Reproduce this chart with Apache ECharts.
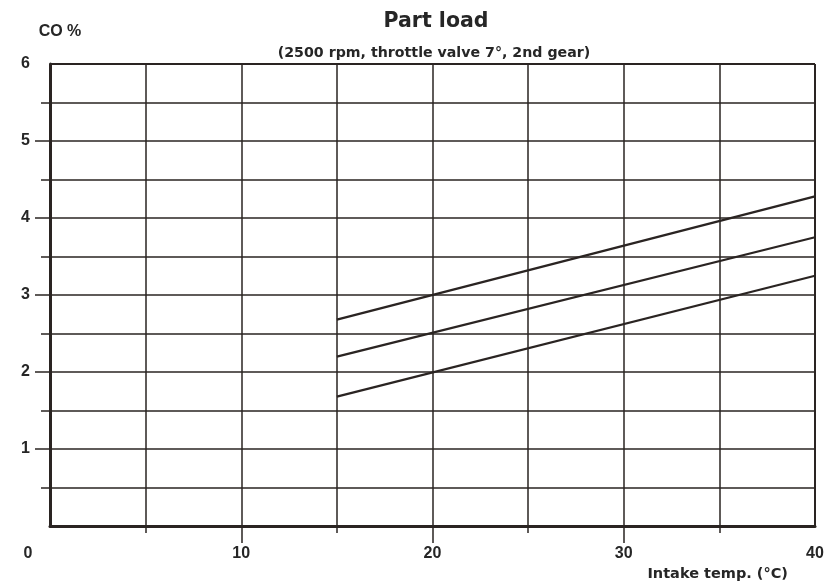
<!DOCTYPE html>
<html>
<head>
<meta charset="utf-8">
<script src="https://cdn.jsdelivr.net/npm/echarts@6/dist/echarts.min.js"></script>
<style>html,body{margin:0;padding:0;background:#fff;}#c{width:837px;height:587px;}</style>
</head>
<body>
<div id="c"></div>
<script>
// Data
var temps = [15, 40];
var upperCO = [2.68, 4.28];
var middleCO = [2.2, 3.75];
var lowerCO = [1.68, 3.25];
var xTicks = [0, 10, 20, 30, 40];
var xMajorTickMarks = [10, 20, 30];
var yTicks = [1, 2, 3, 4, 5, 6];
var yMajorTickMarks = [1, 2, 3, 4, 5];

var titleText = 'Part load';
var subtitleText = '(2500 rpm, throttle valve 7°, 2nd gear)';
var yName = 'CO %';
var xName = 'Intake temp. (°C)';

var ink = '#2a2422';
var txt = '#262626';
var font = 'Liberation Sans';
var wide = 'DejaVu Sans';

function pairs(xs, ys) { return xs.map(function (x, i) { return [x, ys[i]]; }); }

var chart = echarts.init(document.getElementById('c'), null, { renderer: 'canvas' });
var lineStyle = { color: ink, width: 2.3 };
var gridStyle = { color: ink, width: 1.5 };
chart.setOption({
  backgroundColor: '#ffffff',
  animation: false,
  title: [
    { text: titleText, left: 431, top: 6, textAlign: 'center',
      textStyle: { fontFamily: wide, fontSize: 20.5, fontWeight: 'bold', color: txt } },
    { text: subtitleText, left: 429, top: 41, textAlign: 'center',
      textStyle: { fontFamily: wide, fontSize: 14.2, fontWeight: 'bold', color: txt } }
  ],
  grid: { left: 50, right: 22, top: 64, bottom: 61, containLabel: false },
  xAxis: {
    type: 'value', min: 0, max: 40, interval: 10,
    name: xName, nameLocation: 'end',
    nameTextStyle: { fontFamily: wide, fontSize: 14.5, fontWeight: 'bold', color: txt,
      align: 'right', verticalAlign: 'top', padding: [41, 0, 0, 0] },
    nameGap: -27,
    axisLine: { show: true, lineStyle: { color: ink, width: 3 } },
    axisTick: { show: true, length: 17, customValues: xMajorTickMarks, lineStyle: gridStyle },
    minorTick: { show: true, splitNumber: 2, length: 7, lineStyle: gridStyle },
    splitLine: { show: true, lineStyle: gridStyle },
    minorSplitLine: { show: true, lineStyle: gridStyle },
    axisLabel: {
      margin: 20, fontFamily: font, fontSize: 16, fontWeight: 'bold', color: txt,
      customValues: xTicks,
      formatter: function (v) { return v === 0 ? '{z|' + v + '}' : String(v); },
      rich: { z: { fontFamily: font, fontSize: 16, fontWeight: 'bold', color: txt, padding: [0, 44, 0, 0] } }
    }
  },
  yAxis: {
    type: 'value', min: 0, max: 6, interval: 1,
    name: yName, nameLocation: 'end', nameGap: 24,
    nameTextStyle: { fontFamily: font, fontSize: 16, fontWeight: 'bold', color: txt, align: 'center', padding: [0, 0, 0, 20] },
    axisLine: { show: true, lineStyle: { color: ink, width: 3 } },
    axisTick: { show: true, length: 15, customValues: yMajorTickMarks, lineStyle: gridStyle },
    minorTick: { show: true, splitNumber: 2, length: 9, lineStyle: gridStyle },
    splitLine: { show: true, lineStyle: gridStyle },
    minorSplitLine: { show: true, lineStyle: gridStyle },
    axisLabel: {
      margin: 20, fontFamily: font, fontSize: 16, fontWeight: 'bold', color: txt,
      customValues: yTicks,
      formatter: function (v) { return String(v); }
    }
  },
  series: [
    { type: 'line', data: pairs(temps, upperCO), symbol: 'none', lineStyle: lineStyle, z: 5 },
    { type: 'line', data: pairs(temps, middleCO), symbol: 'none', lineStyle: lineStyle, z: 5 },
    { type: 'line', data: pairs(temps, lowerCO), symbol: 'none', lineStyle: lineStyle, z: 5 }
  ],
  graphic: [
    { type: 'line', shape: { x1: 50, y1: 64, x2: 815, y2: 64 }, style: { stroke: ink, lineWidth: 2 }, z: 10 },
    { type: 'line', shape: { x1: 815, y1: 64, x2: 815, y2: 526 }, style: { stroke: ink, lineWidth: 2 }, z: 10 }
  ]
});
</script>
</body>
</html>
